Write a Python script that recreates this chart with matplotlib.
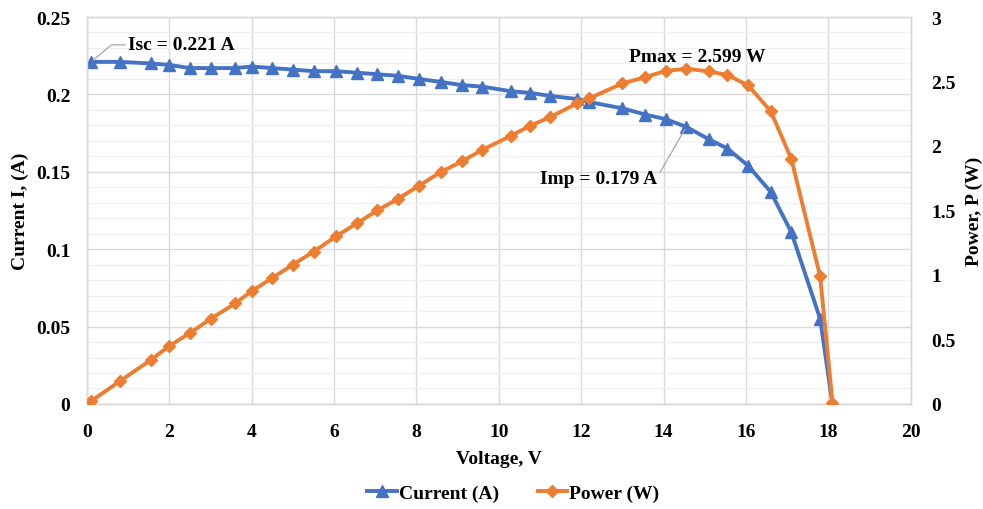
import matplotlib.pyplot as plt
from matplotlib.ticker import MultipleLocator, FuncFormatter

plt.rcParams['font.family'] = ['Liberation Serif', 'DejaVu Serif']
plt.rcParams['font.weight'] = 'bold'

# I-V / P-V measurements of the panel
voltage = [0.1, 0.8, 1.55, 2.0, 2.5, 3.0, 3.6, 4.0, 4.5, 5.0, 5.5, 6.05, 6.55, 7.05,
           7.55, 8.05, 8.6, 9.1, 9.6, 10.3, 10.75, 11.25, 11.9, 12.2, 13.0, 13.55,
           14.05, 14.55, 15.1, 15.55, 16.05, 16.6, 17.1, 17.8, 18.1]
current = [0.221, 0.221, 0.220, 0.219, 0.217, 0.217, 0.217, 0.218, 0.217, 0.216,
           0.215, 0.215, 0.214, 0.213, 0.212, 0.210, 0.208, 0.206, 0.205, 0.202,
           0.201, 0.199, 0.197, 0.195, 0.191, 0.187, 0.184, 0.179, 0.171, 0.165,
           0.154, 0.137, 0.111, 0.055, 0.0]
power = [0.022, 0.177, 0.341, 0.45, 0.55, 0.659, 0.78, 0.875, 0.977, 1.08, 1.18,
         1.30, 1.40, 1.50, 1.59, 1.69, 1.80, 1.88, 1.97, 2.08, 2.155, 2.225, 2.33,
         2.37, 2.485, 2.533, 2.582, 2.599, 2.578, 2.55, 2.47, 2.27, 1.90, 0.99, 0.01]

isc = 0.221
imp = 0.179
pmax = 2.599
i_mpp = power.index(max(power))

blue = '#4472C4'
orange = '#ED7D31'
grid_major = '#d9d9d9'
grid_minor = '#f0f0f0'

fig = plt.figure(figsize=(9.83, 5.1), dpi=100)
ax = fig.add_axes([0.0885, 0.206, 0.838, 0.7587])
ax2 = ax.twinx()

ax.set_xlim(0, 20)
ax.set_ylim(0, 0.25)
ax2.set_ylim(0, 3)
ax.xaxis.set_major_locator(MultipleLocator(2))
ax.yaxis.set_major_locator(MultipleLocator(0.05))
ax.yaxis.set_minor_locator(MultipleLocator(0.01))
ax2.yaxis.set_major_locator(MultipleLocator(0.5))
plain = FuncFormatter(lambda v, pos: f'{v:g}')
ax.yaxis.set_major_formatter(plain)
ax2.yaxis.set_major_formatter(plain)

ax.grid(which='major', color=grid_major, lw=1.0)
ax.grid(which='minor', axis='y', color=grid_minor, lw=1.0)
ax.set_axisbelow(True)

for a in (ax, ax2):
    for s in a.spines.values():
        s.set_color(grid_major)
        s.set_linewidth(1.0)
    a.tick_params(which='both', length=0, labelsize=14)
ax.tick_params(axis='y', pad=12)
ax.tick_params(axis='x', pad=14)
ax2.tick_params(axis='y', pad=15)

l1, = ax.plot(voltage, current, color=blue, lw=2.8, marker='^', ms=8.5,
              label='Current (A)', zorder=3)
l2, = ax2.plot(voltage, power, color=orange, lw=2.8, marker='D', ms=6.5,
               label='Power (W)', zorder=3)

ax.set_xlabel('Voltage, V', fontsize=14, fontweight='bold', labelpad=7)
ax.set_ylabel('Current I, (A)', fontsize=14, fontweight='bold', labelpad=5)
ax2.set_ylabel('Power, P (W)', fontsize=14, fontweight='bold', labelpad=7)

leader = dict(arrowstyle='-', color='#a6a6a6', lw=0.9, shrinkA=0, shrinkB=2)
ax.annotate(f'Isc = {isc} A', xy=(voltage[0], current[0]), xytext=(1.0, 0.232),
            fontsize=14, fontweight='bold', va='center', ha='left',
            arrowprops=dict(leader, connectionstyle='angle,angleA=0,angleB=40,rad=0'))
ax.annotate(f'Imp = {imp} A', xy=(voltage[i_mpp], current[i_mpp]),
            xytext=(13.85, 0.1455), fontsize=14, fontweight='bold',
            va='center', ha='right',
            arrowprops=dict(leader, relpos=(1, 0.5),
                            connectionstyle='angle,angleA=0,angleB=60,rad=0'))
ax2.text(13.15, 2.69, f'Pmax = {pmax} W', fontsize=14, fontweight='bold',
         va='center', ha='left')

fig.legend(handles=[l1, l2], loc='lower center', bbox_to_anchor=(0.522, -0.02),
           ncol=2, frameon=False, fontsize=14, handlelength=1.5,
           handletextpad=0.1, columnspacing=2.0)

fig.savefig('out.png', dpi=100)
